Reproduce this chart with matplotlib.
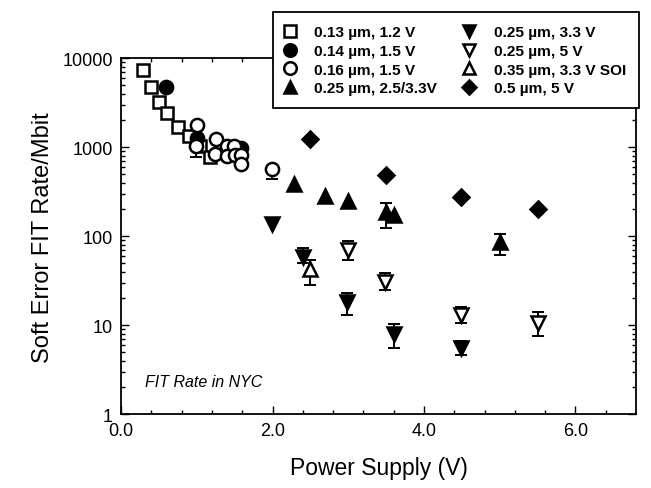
import numpy as np
import matplotlib
matplotlib.use("Agg")
import matplotlib.pyplot as plt
from matplotlib.ticker import FixedLocator, FuncFormatter, LogLocator, NullFormatter

plt.rcParams["font.family"] = ["Liberation Sans", "DejaVu Sans"]

# ── data ────────────────────────────────────────────────────────────────
sq_x = [0.29, 0.40, 0.50, 0.61, 0.75, 0.90, 1.04, 1.18]
sq_y = [7300, 4700, 3200, 2450, 1700, 1330, 1030, 770]

fc_x = [0.59, 1.00, 1.59]
fc_y = [4700, 1280, 990]

oc_x = [1.00, 0.99, 1.25, 1.24, 1.40, 1.49, 1.40, 1.51, 1.59, 1.58, 1.99]
oc_y = [1770, 1020, 1230, 835, 1040, 1040, 790, 810, 810, 640, 565]

tu_x = [2.28, 2.69, 2.99, 3.50, 3.61, 5.00]
tu_y = [384, 284, 249, 185, 172, 85]

td_x = [1.99, 2.40, 2.98, 3.60, 4.49]
td_y = [136, 59, 18, 7.9, 5.5]

otd_x = [2.99, 3.49, 4.49, 5.50]
otd_y = [70, 30.7, 13, 10.5]

otu_x = [2.49]
otu_y = [43]

dm_x = [2.50, 3.50, 4.49, 5.50]
dm_y = [1230, 485, 272, 201]

# error bars: x, centre, low, high
err_x = [0.99, 1.99, 3.50, 5.00, 2.40, 2.98, 3.60, 4.49,
         2.99, 3.49, 4.49, 5.50, 2.49]
err_y = [1020, 565, 185, 85, 59, 18, 7.9, 5.5,
         70, 30.7, 13, 10.5, 43]
err_lo = [780, 440, 123, 62, 50, 13.0, 5.5, 4.6,
          54, 25, 10.5, 7.6, 28]
err_hi = [1100, 600, 235, 105, 73, 23, 10.4, 6.6,
          89, 38.5, 16.2, 13.9, 54]

labels = ["0.13 µm, 1.2 V", "0.14 µm, 1.5 V", "0.16 µm, 1.5 V",
          "0.25 µm, 2.5/3.3V", "0.25 µm, 3.3 V", "0.25 µm, 5 V",
          "0.35 µm, 3.3 V SOI", "0.5 µm, 5 V"]

# ── figure ───────────────────────────────────────────────────────────────
fig = plt.figure(figsize=(6.51, 4.89), dpi=100)
ax = fig.add_axes([0.186, 0.151, 0.791, 0.728])

ey = np.array(err_y)
ax.errorbar(err_x, err_y,
            yerr=[ey - np.array(err_lo), np.array(err_hi) - ey],
            fmt="none", ecolor="black", elinewidth=1.4, capsize=4.5,
            capthick=1.4, zorder=2)

ms = 9.5
ew = 1.8
series = [
    (sq_x, sq_y, "s", "white", ms - 0.5),
    (fc_x, fc_y, "o", "black", ms),
    (oc_x, oc_y, "o", "white", ms),
    (tu_x, tu_y, "^", "black", ms),
    (td_x, td_y, "v", "black", ms),
    (otd_x, otd_y, "v", "white", ms),
    (otu_x, otu_y, "^", "white", ms),
    (dm_x, dm_y, "D", "black", ms - 1.5),
]
handles = []
for (x, y, m, fc, s), lab in zip(series, labels):
    h, = ax.plot(x, y, linestyle="none", marker=m, markersize=s,
                 markerfacecolor=fc, markeredgecolor="black",
                 markeredgewidth=ew, label=lab, zorder=3)
    handles.append(h)

ax.set_yscale("log")
ax.set_xlim(0, 6.8)
ax.set_ylim(1, 10000)

ax.xaxis.set_major_locator(FixedLocator([0, 2, 4, 6]))
ax.xaxis.set_minor_locator(FixedLocator(np.arange(0, 6.8, 0.4)))
ax.xaxis.set_major_formatter(FuncFormatter(lambda v, p: f"{v:.1f}"))
ax.yaxis.set_major_locator(FixedLocator([1, 10, 100, 1000, 10000]))
ax.yaxis.set_minor_locator(LogLocator(base=10, subs=np.arange(2, 10)))
ax.yaxis.set_major_formatter(FuncFormatter(lambda v, p: f"{int(v)}"))
ax.yaxis.set_minor_formatter(NullFormatter())

ax.tick_params(which="both", direction="in", top=True, right=True,
               labelsize=13, width=1.0)
ax.tick_params(which="major", length=6, pad=6)
ax.tick_params(which="minor", length=3)
for sp in ax.spines.values():
    sp.set_linewidth(1.3)

ax.set_xlabel("Power Supply (V)", fontsize=16.5, labelpad=12)
ax.set_ylabel("Soft Error FIT Rate/Mbit", fontsize=17, labelpad=6)

ax.text(0.31, 2.3, "FIT Rate in NYC", fontsize=11.5, style="italic",
        va="center", ha="left")

leg = fig.legend(handles=handles, ncol=2, loc="upper left",
                 bbox_to_anchor=(0.419, 0.973), borderaxespad=0,
                 frameon=True, fancybox=False, framealpha=1,
                 edgecolor="black",
                 prop={"weight": "bold", "size": 11.1},
                 handlelength=0.5, handletextpad=1.35, columnspacing=1.8,
                 labelspacing=0.3, borderpad=0.85, markerscale=0.95)
leg.get_frame().set_linewidth(1.3)
leg.set_zorder(5)

fig.savefig("out.png", dpi=100)
